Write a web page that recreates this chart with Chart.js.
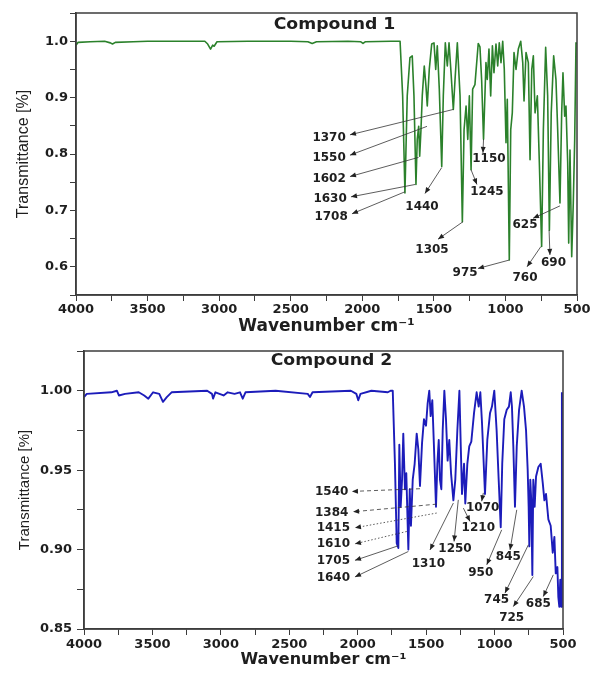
<!DOCTYPE html>
<html lang="en">
<head>
<meta charset="UTF-8">
<title>FTIR spectra</title>
<script src="https://cdn.jsdelivr.net/npm/chart.js"></script>
<style>
  body { margin: 0; background: #fff; }
  .panel { position: absolute; left: 0; width: 592px; }
  #p1 { top: 0; height: 337px; }
  #p2 { top: 337px; height: 338px; }
</style>
</head>
<body>
<div class="panel" id="p1"><canvas id="c1" width="592" height="337"></canvas></div>
<div class="panel" id="p2"><canvas id="c2" width="592" height="338"></canvas></div>
<script>
// --- values ---
const xTickLabels = [4000, 3500, 3000, 2500, 2000, 1500, 1000, 500];
const c1YTicks = [0.6, 0.7, 0.8, 0.9, 1.0];
const c2YTicks = [0.85, 0.90, 0.95, 1.00];

const c1Wavenumber = [4000,3985,3900,3800,3760,3745,3725,3600,3500,3300,3100,3080,3060,3045,3035,3015,2800,2500,2380,2350,2320,2100,2010,1995,1980,1800,1736,
  1718,1702,1686,1667,1651,1639,1625,1616,1606,1599,1590,1581,1567,1555,1546,1532,1515,1499,1487,1476,1462,1445,1434,1420,1406,1394,1380,1364,1352,1336,1317,1301,
  1289,1275,1263,1252,1240,1229,1213,1190,1178,1166,1153,1136,1127,1115,1103,1091,1080,1066,1054,1043,1031,1019,1008,996,987,973,963,952,940,926,910,893,879,870,
  856,840,828,816,805,793,777,763,747,735,719,705,693,680,663,647,635,619,607,598,586,577,565,558,549,537,526,516,507,500];
const c1Transmittance = [0.993,0.998,0.999,1.0,0.997,0.995,0.998,0.999,1.0,1.0,1.0,0.995,0.986,0.993,0.991,0.999,1.0,1.0,0.999,0.996,0.999,1.0,0.999,0.996,0.999,1.0,1.0,
  0.903,0.731,0.903,0.971,0.974,0.903,0.746,0.826,0.849,0.796,0.843,0.903,0.956,0.92,0.885,0.95,0.995,0.997,0.95,0.992,0.915,0.778,0.903,0.997,0.956,0.997,0.944,0.879,0.932,0.997,0.903,0.680,
  0.843,0.885,0.826,0.903,0.772,0.915,0.923,0.996,0.99,0.93,0.826,0.962,0.932,0.986,0.903,0.992,0.944,0.995,0.956,0.997,0.962,1.0,0.95,0.82,0.897,0.612,0.843,0.873,0.98,0.95,0.986,1.0,0.962,0.894,
  0.98,0.962,0.79,0.95,0.974,0.873,0.903,0.784,0.636,0.843,0.989,0.903,0.665,0.873,0.974,0.932,0.843,0.713,0.873,0.944,0.867,0.885,0.784,0.642,0.807,0.618,0.713,0.826,0.997,0.995];

const c2Wavenumber = [4000,3980,3800,3760,3745,3700,3600,3560,3530,3495,3450,3423,3395,3360,3100,3065,3057,3040,2980,2950,2900,2860,2840,2820,2600,2365,2349,2330,2050,2010,1996,1980,1900,1780,1760,1744,
  1728,1715,1703,1696,1686,1676,1667,1655,1645,1630,1620,1611,1598,1584,1569,1557,1545,1530,1516,1501,1489,1477,1467,1455,1443,1428,1418,1408,1399,1389,1379,1367,1355,1343,1331,1318,1301,
  1287,1272,1257,1247,1238,1223,1214,1199,1185,1170,1150,1131,1116,1104,1092,1070,1053,1033,1019,1002,985,970,955,944,929,911,895,882,873,863,851,838,821,802,785,770,758,751,746,739,732,724,
  717,707,697,680,663,648,636,624,607,590,575,563,553,541,534,527,520,513,508];
const c2Transmittance = [0.996,0.998,0.999,1.0,0.997,0.998,0.999,0.997,0.995,0.999,0.998,0.993,0.996,0.999,1.0,0.998,0.995,0.999,0.997,0.999,0.998,0.999,0.995,0.999,1.0,0.998,0.996,0.999,1.0,0.998,0.994,0.998,1.0,0.999,1.0,1.0,
  0.954,0.904,0.901,0.966,0.927,0.944,0.973,0.938,0.948,0.900,0.938,0.915,0.944,0.954,0.973,0.963,0.94,0.967,0.982,0.978,0.992,1.0,0.984,0.994,0.965,0.927,0.954,0.969,0.944,0.938,0.975,1.0,0.982,0.956,0.969,0.948,0.931,
  0.944,0.975,1.0,0.965,0.935,0.954,0.929,0.954,0.965,0.968,0.986,0.999,0.99,0.999,0.98,0.935,0.969,0.986,0.99,1.0,0.975,0.944,0.914,0.954,0.982,0.988,0.99,0.999,0.99,0.965,0.927,0.965,0.988,1.0,0.99,0.975,0.95,0.927,0.902,0.944,0.931,0.884,
  0.944,0.927,0.946,0.952,0.954,0.942,0.931,0.935,0.919,0.915,0.898,0.908,0.885,0.889,0.870,0.864,0.881,0.864,0.999];

// peak labels: arrow from the band to the label, in wavenumber / transmittance units
const c1Notes = [
  { label: '1370', peak: [1364, 0.879], end: [2086, 0.834], text: [2232, 0.829] },
  { label: '1550', peak: [1548, 0.849], end: [2086, 0.798], text: [2232, 0.794] },
  { label: '1602', peak: [1607, 0.794], end: [2086, 0.760], text: [2232, 0.756] },
  { label: '1630', peak: [1630, 0.746], end: [2079, 0.724], text: [2225, 0.720] },
  { label: '1708', peak: [1702, 0.733], end: [2072, 0.694], text: [2218, 0.689] },
  { label: '1440', peak: [1445, 0.776], end: [1562, 0.730], text: [1583, 0.706] },
  { label: '1305', peak: [1296, 0.680], end: [1471, 0.649], text: [1513, 0.630] },
  { label: '1150', peak: [1153, 0.826], end: [1157, 0.802], text: [1115, 0.792] },
  { label: '1245', peak: [1240, 0.772], end: [1199, 0.746], text: [1129, 0.733] },
  { label: '975',  peak: [973, 0.612],  end: [1192, 0.597], text: [1282, 0.589] },
  { label: '760',  peak: [752, 0.636],  end: [849, 0.600],  text: [863, 0.580] },
  { label: '690',  peak: [695, 0.665],  end: [689, 0.621],  text: [664, 0.607] },
  { label: '625',  peak: [619, 0.708],  end: [807, 0.686],  text: [863, 0.674] }
];
const c2Notes = [
  { label: '1540', peak: [1545, 0.9383], end: [2042, 0.9366], text: [2190, 0.9362], dash: [4, 3] },
  { label: '1384', peak: [1423, 0.9286], end: [2034, 0.9238], text: [2190, 0.9233], dash: [4, 3] },
  { label: '1415', peak: [1423, 0.9230], end: [2020, 0.9137], text: [2178, 0.9135], dash: [1.5, 2] },
  { label: '1610', peak: [1642, 0.9114], end: [2020, 0.9036], text: [2178, 0.9034], dash: [1.5, 2] },
  { label: '1705', peak: [1703, 0.9024], end: [2020, 0.8932], text: [2178, 0.8931] },
  { label: '1640', peak: [1630, 0.8988], end: [2020, 0.8828], text: [2178, 0.8824] },
  { label: '1310', peak: [1301, 0.9293], end: [1472, 0.8998], text: [1484, 0.8910] },
  { label: '1250', peak: [1265, 0.9313], end: [1296, 0.9051], text: [1289, 0.9003] },
  { label: '1210', peak: [1228, 0.9261], end: [1179, 0.9177], text: [1119, 0.9135] },
  { label: '1070', peak: [1082, 0.9357], end: [1094, 0.9304], text: [1087, 0.9261] },
  { label: '950',  peak: [948, 0.9124],  end: [1057, 0.8904], text: [1101, 0.8852] },
  { label: '845',  peak: [838, 0.9250],  end: [887, 0.8998],  text: [899, 0.8956] },
  { label: '745',  peak: [753, 0.9030],  end: [924, 0.8726],  text: [985, 0.8683] },
  { label: '725',  peak: [717, 0.8830],  end: [863, 0.8641],  text: [875, 0.8568] },
  { label: '685',  peak: [571, 0.8841],  end: [644, 0.8704],  text: [680, 0.8658] }
];

const INK = '#1e1e1e';

// frame, compound name and peak labels
const decor = {
  id: 'decor',
  afterDraw(chart, args, opts) {
    const { ctx, chartArea: a, scales: { x, y } } = chart;
    ctx.save();
    ctx.strokeStyle = '#3c3c3c';
    ctx.lineWidth = 1.5;
    ctx.strokeRect(a.left, a.top, a.right - a.left, a.bottom - a.top);

    ctx.fillStyle = INK;
    ctx.font = 'bold 15px "DejaVu Sans"';
    ctx.textAlign = 'center';
    ctx.textBaseline = 'middle';
    ctx.save();
    ctx.translate((a.left + a.right) / 2 + opts.titleShift, a.top + opts.titleDrop);
    ctx.scale(1.15, 1);
    ctx.fillText(opts.title, 0, 0);
    ctx.restore();

    opts.notes.forEach(n => {
      const px = x.getPixelForValue(n.peak[0]), py = y.getPixelForValue(n.peak[1]);
      const ex = x.getPixelForValue(n.end[0]), ey = y.getPixelForValue(n.end[1]);
      ctx.strokeStyle = '#333';
      ctx.lineWidth = 0.8;
      ctx.setLineDash(n.dash || []);
      ctx.beginPath();
      ctx.moveTo(px, py);
      ctx.lineTo(ex, ey);
      ctx.stroke();
      ctx.setLineDash([]);
      const ang = Math.atan2(ey - py, ex - px);
      ctx.fillStyle = '#222';
      ctx.beginPath();
      ctx.moveTo(ex, ey);
      ctx.lineTo(ex - 6 * Math.cos(ang) + 2.5 * Math.sin(ang), ey - 6 * Math.sin(ang) - 2.5 * Math.cos(ang));
      ctx.lineTo(ex - 6 * Math.cos(ang) - 2.5 * Math.sin(ang), ey - 6 * Math.sin(ang) + 2.5 * Math.cos(ang));
      ctx.closePath();
      ctx.fill();
      ctx.fillStyle = INK;
      ctx.font = 'bold 12px "DejaVu Sans"';
      ctx.fillText(n.label, x.getPixelForValue(n.text[0]), y.getPixelForValue(n.text[1]));
    });
    ctx.restore();
  }
};

function makeChart(id, s) {
  const pts = s.wn.map((w, i) => ({ x: w, y: s.tr[i] }));
  return new Chart(document.getElementById(id), {
    type: 'line',
    data: { datasets: [{ data: pts, borderColor: s.color, borderWidth: s.lineWidth, pointRadius: 0, tension: 0, fill: false, borderJoinStyle: 'round' }] },
    plugins: [decor],
    options: {
      responsive: false,
      animation: false,
      layout: { padding: s.pad },
      plugins: {
        legend: { display: false },
        tooltip: { enabled: false },
        decor: { title: s.title, notes: s.notes, titleShift: 8, titleDrop: s.titleDrop }
      },
      scales: {
        x: {
          type: 'linear', reverse: true, min: 500, max: 4000,
          afterFit: sc => { sc.height = s.xHeight; },
          border: { display: true, color: '#3c3c3c', width: 1.5 },
          grid: { drawOnChartArea: false, drawTicks: true, tickLength: 6, color: '#3c3c3c' },
          ticks: {
            stepSize: 250, autoSkip: false, maxRotation: 0, padding: s.xTickPad, color: INK,
            font: { family: 'DejaVu Sans', weight: 'bold', size: 13 },
            callback: v => xTickLabels.includes(v) ? String(v) : ''
          },
          title: {
            display: true, text: 'Wavenumber cm\u207B\u00B9', color: INK,
            font: { family: 'DejaVu Sans', weight: 'bold', size: s.xTitleSize },
            padding: { top: 0, bottom: s.xTitlePad }
          }
        },
        y: {
          min: s.yMin, max: s.yMax,
          afterFit: sc => { sc.width = s.yWidth; },
          border: { display: true, color: '#3c3c3c', width: 1.5 },
          grid: { drawOnChartArea: false, drawTicks: true, tickLength: s.yTick, color: '#3c3c3c' },
          ticks: {
            stepSize: s.yStep, autoSkip: false, padding: s.yTickPad, color: INK,
            font: { family: 'DejaVu Sans', weight: 'bold', size: 13 },
            callback: v => s.yTicks.some(t => Math.abs(t - v) < 1e-6) ? v.toFixed(s.digits) : ''
          },
          title: {
            display: true, text: 'Transmittance [%]', color: INK,
            font: { family: 'Liberation Sans', size: s.yTitleSize },
            padding: { top: s.yTitlePad, bottom: 0 }
          }
        }
      }
    }
  });
}

makeChart('c1', {
  wn: c1Wavenumber, tr: c1Transmittance, notes: c1Notes, title: 'Compound 1',
  color: '#2b812b', lineWidth: 1.6,
  pad: { top: 13, right: 15, left: 0, bottom: 0 },
  yMin: 0.55, yMax: 1.05, yStep: 0.05, yTicks: c1YTicks, digits: 1,
  yWidth: 76, yTick: 6, yTickPad: 2, yTitleSize: 16, yTitlePad: 14,
  xHeight: 42, xTickPad: 1, xTitleSize: 17, xTitlePad: 0, titleDrop: 12
});

makeChart('c2', {
  wn: c2Wavenumber, tr: c2Transmittance, notes: c2Notes, title: 'Compound 2',
  color: '#1c1cba', lineWidth: 1.9,
  pad: { top: 14, right: 29, left: 0, bottom: 0 },
  yMin: 0.85, yMax: 1.025, yStep: 0.025, yTicks: c2YTicks, digits: 2,
  yWidth: 84, yTick: 7, yTickPad: 5, yTitleSize: 15, yTitlePad: 16,
  xHeight: 46, xTickPad: 1.5, xTitleSize: 16, xTitlePad: 6, titleDrop: 10
});
</script>
</body>
</html>
